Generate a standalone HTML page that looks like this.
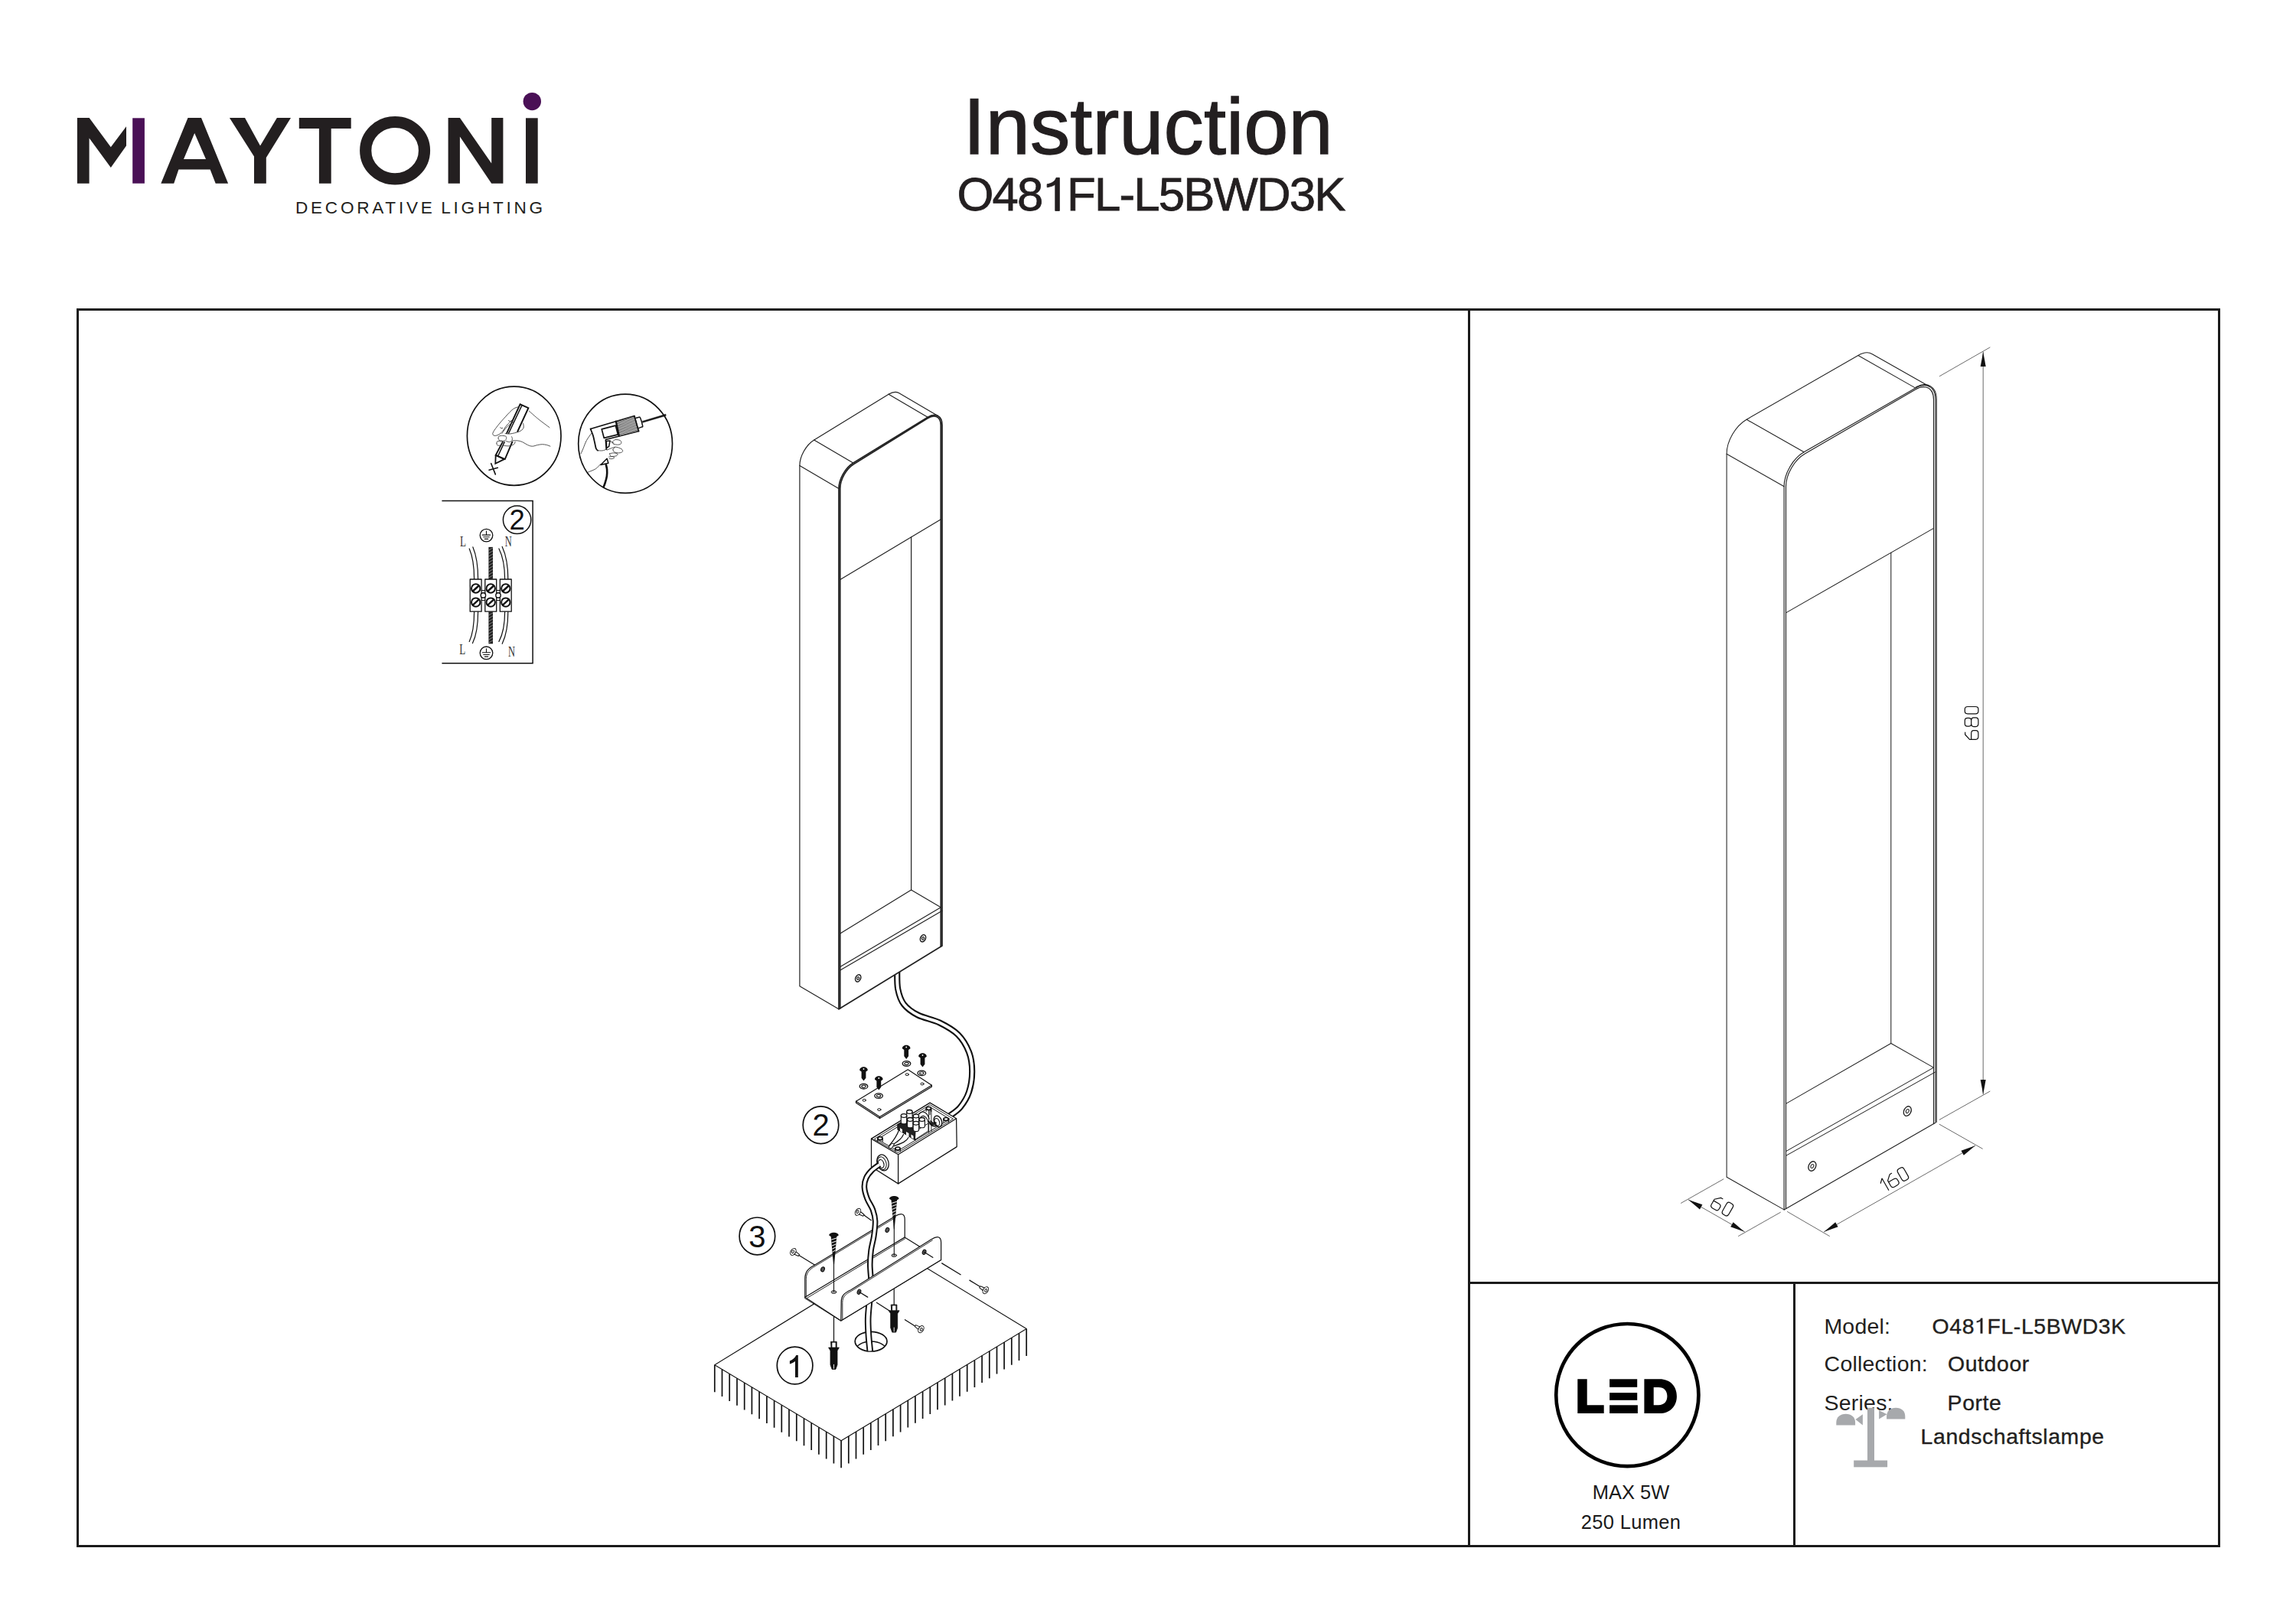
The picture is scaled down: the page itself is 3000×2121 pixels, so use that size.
<!DOCTYPE html>
<html><head><meta charset="utf-8"><title>Instruction O481FL-L5BWD3K</title>
<style>
html,body{margin:0;padding:0;background:#fff;}
body{width:3000px;height:2121px;position:relative;overflow:hidden;font-family:"Liberation Sans",sans-serif;color:#1a1a1a;}
.abs{position:absolute;white-space:nowrap;}
.frame{position:absolute;left:99.5px;top:402.5px;width:2795px;height:1613px;border:3px solid #1a1a1a;}
.vl{position:absolute;background:#1a1a1a;width:3px;}
.hl{position:absolute;background:#1a1a1a;height:3px;}
#title{left:1000.2px;width:1000px;text-align:center;top:104.6px;font-size:104.5px;line-height:120px;-webkit-text-stroke:1.3px #231f20;letter-spacing:0.1px;color:#231f20}
#model{left:1003.5px;width:1000px;text-align:center;top:219.3px;font-size:61.7px;line-height:70px;letter-spacing:-1.8px;color:#231f20;-webkit-text-stroke:0.8px #231f20;}
.info{font-size:28.5px;line-height:32px;letter-spacing:0.55px;color:#231f20;-webkit-text-stroke:0.35px #231f20}
.lab{letter-spacing:0.2px;-webkit-text-stroke:0;}
svg{position:absolute;left:0;top:0;}
.one{display:inline-block;width:0.556em;height:0.72em;position:relative;}
.one svg{position:absolute;left:0;top:0;width:100%;height:100%;overflow:visible}
#model .one{margin-right:-1.8px}
.info .one{margin-right:0.55px}
</style></head><body>
<div class="frame"></div>
<div class="vl" style="left:1918px;top:404px;height:1616px"></div>
<div class="hl" style="left:1919px;top:1675px;width:980px"></div>
<div class="vl" style="left:2342.5px;top:1676px;height:344px"></div>
<div class="abs" id="title">Instruction</div>
<div class="abs" id="model">O48<span class="one"><svg viewBox="0 0 556 720" preserveAspectRatio="none"><path d="M362 720 V22 H292 C272 92 202 142 100 158 V222 C172 212 232 192 272 162 V720 Z" fill="#231f20" stroke="#231f20" stroke-width="14"/></svg></span>FL-L5BWD3K</div>
<div class="abs" style="left:2031px;width:200px;text-align:center;top:1930px;font-size:25.5px;line-height:40px">MAX 5W</div>
<div class="abs" style="left:2031px;width:200px;text-align:center;top:1969.3px;font-size:25.5px;line-height:40px;letter-spacing:0.3px">250 Lumen</div>
<div class="abs info lab" style="left:2383.4px;top:1716.7px">Model:</div>
<div class="abs info" style="left:2524.6px;top:1716.7px">O48<span class="one"><svg viewBox="0 0 556 720" preserveAspectRatio="none"><path d="M362 720 V22 H292 C272 92 202 142 100 158 V222 C172 212 232 192 272 162 V720 Z" fill="#231f20" stroke="#231f20" stroke-width="12"/></svg></span>FL-L5BWD3K</div>
<div class="abs info lab" style="left:2383.6px;top:1766.4px">Collection:</div>
<div class="abs info" style="left:2545px;top:1766.4px">Outdoor</div>
<div class="abs info lab" style="left:2383.6px;top:1817.3px">Series:</div>
<div class="abs info" style="left:2544.6px;top:1817.3px">Porte</div>
<div class="abs info" style="left:2509.6px;top:1860.9px">Landschaftslampe</div>
<div class="abs" id="deco" style="left:386px;top:259px;font-size:22.6px;line-height:26px;letter-spacing:3.73px;word-spacing:-2.2px;color:#231f20;">DECORATIVE LIGHTING</div>
<svg width="3000" height="2121" viewBox="0 0 3000 2121" fill="none" stroke-linecap="round" stroke-linejoin="round">
<defs>
<g id="scr"><path d="M-5.3 4.6 C-5.3 -1.6 5.3 -1.6 5.3 4.6 L2.9 6.2 V14.5 L0 18.3 L-2.9 14.5 V6.2 Z" fill="#111" stroke="none"/><circle cx="0" cy="2.8" r="0.9" fill="#fff" stroke="none"/></g>
<g id="wsh" stroke="#111" fill="#fff"><ellipse cx="0" cy="0" rx="5.3" ry="3.3" stroke-width="1.3"/><ellipse cx="0" cy="0" rx="2.7" ry="1.6" stroke-width="1.1"/></g>
<g id="anchor"><path d="M-3.7 0 H3.7 V7.8 H6.9 L4.5 11.7 V30.2 L2.4 36.1 H-2.4 L-4.5 30.2 V11.7 L-6.9 7.8 H-3.7 Z" fill="#111" stroke="#111" stroke-width="0.8"/><rect x="-2.2" y="1.3" width="4.4" height="6" fill="#fff" stroke="none"/><path d="M0 30 V35" stroke="#fff" stroke-width="0.9"/></g>
<g id="wscrew"><path d="M-6.2 3.4 C-6.2 -1.4 6.2 -1.4 6.2 3.4 L3.8 5 L0.4 43 H-0.4 L-3.8 5 Z" fill="#111" stroke="none"/><path d="M-3 9 L3.4 7 M-2.7 13 L3 11 M-2.3 17 L2.6 15 M-1.9 21 L2.2 19 M-1.5 25 L1.8 23" stroke="#fff" stroke-width="1"/></g>
<g id="bolt" stroke="#111" stroke-width="1" fill="#fff"><path d="M0 -2.2 L-7.5 -1.2 V1.2 L0 2.2Z"/><ellipse cx="1.2" cy="0" rx="3.2" ry="4.9"/><ellipse cx="1.6" cy="0" rx="1.3" ry="2" stroke-width="0.9"/></g>
</defs>
<g id="logo" stroke="none" fill="#231f20">
<!-- M -->
<path d="M100.9 154 H116.6 L144.8 192.3 L165 165.3 V190.6 L144.8 219 L116.6 180.5 V239.7 H100.9 Z"/>
<rect x="173.2" y="154.3" width="15.7" height="85.4" fill="#4a1056"/>
<!-- A -->
<path fill-rule="evenodd" d="M245.5 154 H263 L298.1 239.7 H281.7 L274.6 221.4 H233.4 L227.2 239.7 H210.3 Z M254.2 174 L240 208 H269 Z"/>
<!-- Y -->
<path d="M299.9 154 H320 L340 190.6 L361.9 154 H380 L347.8 206 V239.7 H332 V204.5 Z"/>
<!-- T -->
<path d="M390.8 154 H458.7 V168 H432.7 V239.7 H416.9 V168 H390.8 Z"/>
<!-- O -->
<ellipse cx="516.1" cy="196.7" rx="38.4" ry="37.2" fill="none" stroke="#231f20" stroke-width="15.2"/>
<!-- N -->
<path d="M585.6 154 H600.9 L642.2 213.5 V154 H657.4 V239.7 H642.2 L600.9 178.5 V239.7 H585.6 Z"/>
<!-- I -->
<rect x="687" y="154.3" width="15.7" height="85.4"/>
<circle cx="695.3" cy="132.6" r="11.7" fill="#4a1056"/>
</g>
<!-- right lamp -->
<g stroke="#222" stroke-width="1.05" fill="none">
<path d="M2331.1 1580.9 L2331.1 635.8 C2331.1 619.2 2342.7 599.1 2357.1 590.8 L2502.9 507.1 C2517.3 498.8 2528.9 505.5 2528.9 522.1 L2528.9 1467.2 L2331.1 1580.9" stroke-width="1.15"/>
<path d="M2333.5 1579.5 L2333.5 635.8 C2333.5 620.0 2344.6 600.9 2358.3 593.0 L2502.4 509.2 C2515.7 501.4 2526.5 507.1 2526.5 522.1 L2526.5 1468.6" stroke-width="1.15"/>
<path d="M2503.6 505.8 C2518.3 497.8 2530.3 505.1 2530.3 522.1 L2530.3 1466.4"/>
<path d="M2331.1 1580.9 L2256.1 1538.3 L2256.1 593.2 C2256.1 576.6 2267.7 556.5 2282.1 548.2 L2427.9 464.5"/>
<path d="M2256.1 593.2 L2331.1 635.8 M2282.1 548.2 L2357.1 590.8 M2427.9 464.5 L2502.9 507.1"/>
<path d="M2427.9 464.5 C2435.1 460.3 2441.6 459.9 2446.3 462.7 L2521.3 505.3"/>
<path d="M2333.5 800.9 L2526.5 690.4"/>
<path d="M2470.8 722.3 V1363.5"/>
<path d="M2333.5 1442.4 L2470.8 1363.5 L2526.5 1395.1"/>
<path d="M2333.5 1504.6 L2526.5 1395.1"/>
<path d="M2333.5 1510.4 L2528.9 1400.9"/>
<ellipse cx="2367.9" cy="1524" rx="4.6" ry="6.6" transform="rotate(25 2367.9 1524)" stroke-width="1.37"/>
<ellipse cx="2367.9" cy="1524" rx="1.8" ry="2.6" transform="rotate(25 2367.9 1524)"/>
<ellipse cx="2492.3" cy="1452.1" rx="4.6" ry="6.6" transform="rotate(25 2492.3 1452.1)" stroke-width="1.37"/>
<ellipse cx="2492.3" cy="1452.1" rx="1.8" ry="2.6" transform="rotate(25 2492.3 1452.1)"/>
</g>
<!-- dims -->
<g stroke="#444" stroke-width="0.8" fill="none">
<path d="M2591.2 459.9 L2591.2 1429.9"/>
<path d="M2534.4 491.6 L2600 454"/>
<path d="M2534.1 1463.3 L2600 1426.2"/>
<path d="M2383.4 1609.7 L2580.7 1497.3"/>
<path d="M2534.1 1469.3 L2590.3 1501.2"/>
<path d="M2335.5 1583.5 L2390.4 1615.4"/>
<path d="M2206.2 1567.9 L2279.4 1609.7"/>
<path d="M2251.9 1540.9 L2196.5 1572.3"/>
<path d="M2326.4 1584.3 L2271.5 1615.4"/>
</g>
<path d="M2591.2 459.9 L2594.7 478.9 L2587.7 478.9Z" fill="#111" stroke="none"/>
<path d="M2591.2 1429.9 L2587.7 1410.9 L2594.7 1410.9Z" fill="#111" stroke="none"/>
<path d="M2383.4 1609.7 L2398.2 1597.3 L2401.6 1603.3Z" fill="#111" stroke="none"/>
<path d="M2580.7 1497.3 L2565.9 1509.7 L2562.5 1503.7Z" fill="#111" stroke="none"/>
<path d="M2206.2 1567.9 L2224.4 1574.3 L2221.0 1580.4Z" fill="#111" stroke="none"/>
<path d="M2279.4 1609.7 L2261.2 1603.3 L2264.6 1597.2Z" fill="#111" stroke="none"/>
<g transform="translate(2591.2 944.9) rotate(-90) translate(0 -6.3) scale(0.93 -0.93)" stroke="#111" stroke-width="1.3" fill="none" stroke-linejoin="round"><path transform="translate(-23.00 0)" d="M9.8,18.5 H6.8 L0,12.2 V3.5 Q0,0 4,0 H8.5 Q12.5,0 12.5,3.5 V6.5 Q12.5,9.9 8.5,9.9 H0"/><path transform="translate(-5.00 0)" d="M8.5,9.9 H4 Q0,9.9 0,6.5 V3.5 Q0,0 4,0 H8.5 Q12.5,0 12.5,3.5 V6.5 Q12.5,9.9 8.5,9.9 Q12,9.9 12,13 V15.5 Q12,18.9 8.5,18.9 H4 Q0.5,18.9 0.5,15.5 V13 Q0.5,9.9 4,9.9"/><path transform="translate(13.00 0)" d="M0,4 V15 Q0,18.9 3.5,18.9 H6.5 Q10,18.9 10,15 V4 Q10,0 6.5,0 H3.5 Q0,0 0,4Z"/></g>
<g transform="translate(2482.0 1553.5) rotate(-29.7) translate(0 -5.5) scale(0.93 -0.93)" stroke="#111" stroke-width="1.3" fill="none" stroke-linejoin="round"><path transform="translate(-19.25 0)" d="M0,14 L5,18.9 V0"/><path transform="translate(-8.75 0)" d="M9.8,18.5 H6.8 L0,12.2 V3.5 Q0,0 4,0 H8.5 Q12.5,0 12.5,3.5 V6.5 Q12.5,9.9 8.5,9.9 H0"/><path transform="translate(9.25 0)" d="M0,4 V15 Q0,18.9 3.5,18.9 H6.5 Q10,18.9 10,15 V4 Q10,0 6.5,0 H3.5 Q0,0 0,4Z"/></g>
<g transform="translate(2242.8 1588.8) rotate(29.7) translate(0 -6) scale(0.93 -0.93)" stroke="#111" stroke-width="1.3" fill="none" stroke-linejoin="round"><path transform="translate(-14.00 0)" d="M9.8,18.5 H6.8 L0,12.2 V3.5 Q0,0 4,0 H8.5 Q12.5,0 12.5,3.5 V6.5 Q12.5,9.9 8.5,9.9 H0"/><path transform="translate(4.00 0)" d="M0,4 V15 Q0,18.9 3.5,18.9 H6.5 Q10,18.9 10,15 V4 Q10,0 6.5,0 H3.5 Q0,0 0,4Z"/></g>
<!-- cable1 -->
<clipPath id="c1clip"><path d="M1096 1318.8 L1231 1236 H1400 V1500 H1096Z"/></clipPath>
<g clip-path="url(#c1clip)"><path d="M1172.2 1266.0 C1172.4 1270.4 1171.7 1284.8 1173.2 1292.5 C1174.7 1300.2 1176.6 1306.7 1181.0 1312.4 C1185.4 1318.1 1191.6 1322.5 1199.4 1326.5 C1207.2 1330.5 1219.0 1332.2 1227.7 1336.5 C1236.4 1340.8 1245.4 1345.7 1251.8 1352.1 C1258.2 1358.5 1262.9 1366.7 1266.0 1374.7 C1269.1 1382.7 1270.2 1391.5 1270.2 1400.2 C1270.2 1409.0 1268.6 1419.4 1266.0 1427.2 C1263.4 1435.0 1258.9 1441.8 1254.7 1447.0 C1250.5 1452.2 1242.9 1456.6 1240.6 1458.5" stroke="#111" stroke-width="8.2" stroke-linecap="butt" fill="none"/>
<path d="M1172.2 1266.0 C1172.4 1270.4 1171.7 1284.8 1173.2 1292.5 C1174.7 1300.2 1176.6 1306.7 1181.0 1312.4 C1185.4 1318.1 1191.6 1322.5 1199.4 1326.5 C1207.2 1330.5 1219.0 1332.2 1227.7 1336.5 C1236.4 1340.8 1245.4 1345.7 1251.8 1352.1 C1258.2 1358.5 1262.9 1366.7 1266.0 1374.7 C1269.1 1382.7 1270.2 1391.5 1270.2 1400.2 C1270.2 1409.0 1268.6 1419.4 1266.0 1427.2 C1263.4 1435.0 1258.9 1441.8 1254.7 1447.0 C1250.5 1452.2 1242.9 1456.6 1240.6 1458.5" stroke="#fff" stroke-width="4.0" stroke-linecap="butt" fill="none"/>
</g>
<!-- left lamp -->
<g stroke="#222" stroke-width="1.2" fill="none">
<path d="M1096.0 1318.8 L1096.0 638.5 C1096.0 626.3 1104.4 611.4 1114.8 605.0 L1212.2 545.2 C1222.6 538.8 1231.0 543.5 1231.0 555.7 L1231.0 1236.0 L1096.0 1318.8" stroke-width="1.75"/>
<path d="M1097.7 1317.8 L1097.7 638.5 C1097.7 626.9 1105.7 612.6 1115.6 606.5 L1211.9 546.7 C1221.5 540.7 1229.3 544.7 1229.3 555.7 L1229.3 1237.0" stroke-width="1.75"/>
<path d="M1096.0 1318.8 L1044.9 1288.8 L1044.9 608.5 C1044.9 596.3 1053.3 581.4 1063.7 575.0 L1161.1 515.2"/>
<path d="M1044.9 608.5 L1096.0 638.5 M1063.7 575.0 L1114.8 605.0 M1161.1 515.2 L1212.2 545.2"/>
<path d="M1161.1 515.2 C1166.3 512.0 1171.0 511.6 1174.4 513.5 L1225.5 543.5"/>
<path d="M1097.7 757.5 L1229.3 678.7"/>
<path d="M1190.6 701.9 V1163.1"/>
<path d="M1097.7 1220.1 L1190.6 1163.1 L1229.3 1185.8"/>
<path d="M1097.7 1263.6 L1229.3 1185.8"/>
<path d="M1097.7 1268.0 L1231.0 1190.2"/>
<ellipse cx="1121.2" cy="1278.4" rx="3.3" ry="4.8" transform="rotate(25 1121.2 1278.4)" stroke-width="1.56"/>
<ellipse cx="1121.2" cy="1278.4" rx="1.3" ry="1.9" transform="rotate(25 1121.2 1278.4)"/>
<ellipse cx="1206" cy="1226.2" rx="3.3" ry="4.8" transform="rotate(25 1206 1226.2)" stroke-width="1.56"/>
<ellipse cx="1206" cy="1226.2" rx="1.3" ry="1.9" transform="rotate(25 1206 1226.2)"/>
</g>
<!-- plate and screws -->
<g stroke="#111" stroke-width="1.2" fill="#fff">
<path d="M1118.5 1439.2 L1186.3 1397.8 L1217.4 1418.2 L1217.4 1420.2 L1149.5 1461.6 L1118.5 1441.2Z"/>
<path d="M1118.5 1439.2 L1149.5 1459.6 L1217.4 1418.2" fill="none"/>
<path d="M1149.5 1459.6 v2" fill="none"/>
<ellipse cx="1129.2" cy="1437.8" rx="2.2" ry="1.4" stroke-width="1"/>
<ellipse cx="1185.2" cy="1404.2" rx="2.2" ry="1.4" stroke-width="1"/>
<ellipse cx="1205" cy="1416.5" rx="2.2" ry="1.4" stroke-width="1"/>
<ellipse cx="1148.8" cy="1450.1" rx="2.2" ry="1.4" stroke-width="1"/>
</g>
<use href="#wsh" x="1184.5" y="1390"/>
<use href="#wsh" x="1204.3" y="1402.4"/>
<use href="#wsh" x="1128.5" y="1419.7"/>
<use href="#wsh" x="1148.1" y="1432.1"/>
<use href="#scr" x="1184.2" y="1365.7"/>
<use href="#scr" x="1205.5" y="1376.2"/>
<use href="#scr" x="1128.5" y="1394.2"/>
<use href="#scr" x="1148.3" y="1406.2"/>
<!-- junction box -->
<g stroke="#111" stroke-width="1.25" fill="#fff">
<path d="M1138.5 1488.1 L1215.1 1441.1 L1249.6 1461.8 L1250.2 1498.6 L1173.6 1546.9 L1138.5 1524.7Z"/>
<path d="M1138.5 1488.1 L1173.6 1508.8 L1249.6 1461.8 M1173.6 1508.8 L1173.6 1546.9" fill="none"/>
<path d="M1142.6 1488.4 L1215.1 1443.7 L1245.4 1462.2 L1173.6 1506.2Z" stroke-width="0.9" fill="none"/>
<path d="M1146.6 1488.8 L1215.1 1446.6 L1241.0 1462.5 L1173.6 1503.8Z" stroke-width="1" fill="none"/>
<path d="M1215.1 1446.6 v10 M1213.6 1451.4 V1480.3 M1216.9 1449.5 V1478.4" stroke-width="0.9" fill="none"/>
<path d="M1146.7 1487.7 v4 M1153.3 1487.7 v4" stroke-width="1" fill="none"/><ellipse cx="1150" cy="1487.7" rx="3.1" ry="2" stroke-width="1.7"/>
<path d="M1169.7 1501 v4 M1176.3 1501 v4" stroke-width="1" fill="none"/><ellipse cx="1173" cy="1501" rx="3.1" ry="2" stroke-width="1.7"/>
<path d="M1232.8 1462.5 v4 M1239.3999999999999 1462.5 v4" stroke-width="1" fill="none"/><ellipse cx="1236.1" cy="1462.5" rx="3.1" ry="2" stroke-width="1.7"/>
<path d="M1210.1000000000001 1448.5 v4 M1216.7 1448.5 v4" stroke-width="1" fill="none"/><ellipse cx="1213.4" cy="1448.5" rx="3.1" ry="2" stroke-width="1.7"/>
<path d="M1172.9 1469.5 L1181.5 1464.5 L1196.5 1478 L1196 1490 L1187 1484.5 L1173 1476 Z" fill="#222" stroke="#111"/>
<path d="M1176 1474 l3 2 v4 l-3 -2z M1184 1479 l3.5 2 v4.5 l-3.5 -2z M1190.5 1482.5 l3 2 v4 l-3 -2z" fill="#fff" stroke="none"/>
<path d="M1196.5 1478 L1213 1468 V1478 L1196 1489" fill="#fff" stroke-width="1"/>
<path d="M1162 1497 C1168 1490 1172 1484 1174.5 1477 M1164 1497.5 C1172 1492 1178 1489 1180.5 1482.5 M1166 1498.5 C1175 1495 1184 1493 1187 1486.5" fill="none" stroke-width="1.2"/>
<path d="M1161 1499 l4.5 -5 l3 1.5 l-4 5.5z" fill="#fff" stroke-width="1"/>
<path d="M1184.7 1452.9 V1461.4 A3.7 2.4 0 0 0 1192.1000000000001 1461.4 V1452.9 Z" stroke-width="1.1"/><ellipse cx="1188.4" cy="1452.9" rx="3.7" ry="2.4" stroke-width="1.3"/>
<path d="M1177.3 1458 V1466.5 A3.7 2.4 0 0 0 1184.7 1466.5 V1458 Z" stroke-width="1.1"/><ellipse cx="1181" cy="1458" rx="3.7" ry="2.4" stroke-width="1.3"/>
<path d="M1193.2 1458.5 V1467.0 A3.7 2.4 0 0 0 1200.6000000000001 1467.0 V1458.5 Z" stroke-width="1.1"/><ellipse cx="1196.9" cy="1458.5" rx="3.7" ry="2.4" stroke-width="1.3"/>
<path d="M1201.0 1462.9 V1471.4 A3.7 2.4 0 0 0 1208.4 1471.4 V1462.9 Z" stroke-width="1.1"/><ellipse cx="1204.7" cy="1462.9" rx="3.7" ry="2.4" stroke-width="1.3"/>
<path d="M1185.5 1462.9 V1471.4 A3.7 2.4 0 0 0 1192.9 1471.4 V1462.9 Z" stroke-width="1.1"/><ellipse cx="1189.2" cy="1462.9" rx="3.7" ry="2.4" stroke-width="1.3"/>
<path d="M1193.2 1467.7 V1476.2 A3.7 2.4 0 0 0 1200.6000000000001 1476.2 V1467.7 Z" stroke-width="1.1"/><ellipse cx="1196.9" cy="1467.7" rx="3.7" ry="2.4" stroke-width="1.3"/>
<path d="M1201 1456 C1204 1451 1211 1452 1214 1462 M1203 1460 C1207 1456 1211 1460 1213 1467" fill="none" stroke-width="1.1"/>
<ellipse cx="1225.4" cy="1465.5" rx="5" ry="7.5" transform="rotate(-20 1225.4 1465.5)" stroke-width="1.4"/>
<ellipse cx="1224.4" cy="1466.3" rx="3" ry="5" transform="rotate(-20 1224.4 1466.3)" stroke-width="1.1"/>
<path d="M1214 1466 C1217 1470 1220 1470 1223 1469 M1215 1468.5 C1218 1472 1221 1472.5 1224 1471 M1216 1465 C1218 1468 1221 1468 1223 1467" stroke-width="1.6" fill="none"/>
<ellipse cx="1153.5" cy="1519.4" rx="7.4" ry="10.7" transform="rotate(-16 1153.5 1519.4)" stroke-width="1.3"/>
<ellipse cx="1152.3" cy="1520.2" rx="5.6" ry="8.6" transform="rotate(-16 1152.3 1520.2)" stroke-width="1"/>
<ellipse cx="1151.2" cy="1521" rx="3.6" ry="5.6" transform="rotate(-16 1151.2 1521)" stroke-width="1.2"/>
</g>
<!-- ground -->
<g stroke="#111" fill="none">
<path d="M933.8 1783.7 L1099.1 1882.8 L1341.2 1736.5 L1175.2 1635.5 Z" stroke-width="1.1" fill="#fff"/>
<path d="M933.8 1783.7 v35.5 M943.5 1789.5 v35.5 M953.2 1795.4 v35.5 M963.0 1801.2 v35.5 M972.7 1807.0 v35.5 M982.4 1812.8 v35.5 M992.1 1818.7 v35.5 M1001.9 1824.5 v35.5 M1011.6 1830.3 v35.5 M1021.3 1836.2 v35.5 M1031.0 1842.0 v35.5 M1040.8 1847.8 v35.5 M1050.5 1853.7 v35.5 M1060.2 1859.5 v35.5 M1069.9 1865.3 v35.5 M1079.7 1871.1 v35.5 M1089.4 1877.0 v35.5 M1099.1 1882.8 v35.5 M1108.8 1876.9 v35.5 M1118.5 1871.1 v35.5 M1128.2 1865.2 v35.5 M1137.8 1859.4 v35.5 M1147.5 1853.5 v35.5 M1157.2 1847.7 v35.5 M1166.9 1841.8 v35.5 M1176.6 1836.0 v35.5 M1186.3 1830.1 v35.5 M1195.9 1824.3 v35.5 M1205.6 1818.4 v35.5 M1215.3 1812.6 v35.5 M1225.0 1806.7 v35.5 M1234.7 1800.9 v35.5 M1244.4 1795.0 v35.5 M1254.0 1789.2 v35.5 M1263.7 1783.3 v35.5 M1273.4 1777.5 v35.5 M1283.1 1771.6 v35.5 M1292.8 1765.8 v35.5 M1302.5 1759.9 v35.5 M1312.1 1754.1 v35.5 M1321.8 1748.2 v35.5 M1331.5 1742.4 v35.5 M1341.2 1736.5 v35.5 " stroke-width="1.7" stroke-linecap="butt"/>
<clipPath id="holeclip"><ellipse cx="1138.1" cy="1753.1" rx="20.5" ry="12.4"/></clipPath>
<ellipse cx="1138.1" cy="1753.1" rx="20.9" ry="12.8" stroke-width="1.7" fill="#fff"/>
<ellipse cx="1138.1" cy="1765.9" rx="20.9" ry="12.8" stroke-width="1.5" clip-path="url(#holeclip)"/>
</g>
<!-- bracket back -->
<g stroke="#111" stroke-width="1.2" fill="#fff">
<path d="M1051.8 1695.3 V1670.9 C1051.8 1662 1056 1657.5 1064.4 1653.2 L1169.8 1589.3 C1176.5 1585 1182.2 1585.5 1182.2 1593.5 V1617 L1054.6 1694.6 Z"/>
<path d="M1053.3 1694.5 V1671.5 C1053.3 1663.5 1057.5 1659 1065.2 1654.6 L1170.5 1590.8" fill="none" stroke-width="0.9"/>
<path d="M1051.8 1695.3 L1098.8 1726.1 L1229.6 1646.6 L1182.2 1617 Z"/>
<path d="M1054.6 1696.3 L1182.4 1618.8" fill="none" stroke-width="0.9"/>
<ellipse cx="1075" cy="1658.8" rx="2.3" ry="3.1" transform="rotate(20 1075 1658.8)" fill="#555" stroke-width="1.1"/>
<ellipse cx="1159.4" cy="1607.4" rx="2.3" ry="3.1" transform="rotate(20 1159.4 1607.4)" fill="#555" stroke-width="1.1"/>
<ellipse cx="1089.5" cy="1688.5" rx="3.3" ry="1.8" stroke-width="1" fill="#bbb"/>
<ellipse cx="1168.3" cy="1640.6" rx="3.3" ry="1.8" stroke-width="1" fill="#bbb"/>
</g>
<g stroke="#111" stroke-width="1.2" fill="none">
<path d="M1044 1640.4 L1064.4 1652.9 M1129 1588 L1138.3 1594.7"/>
</g>
<use href="#bolt" transform="translate(1037.4 1636.6) rotate(211)"/>
<use href="#bolt" transform="translate(1122 1584.4) rotate(211)"/>
<g stroke="#111" stroke-width="1.1" fill="none"><path d="M1089.5 1650 V1688 M1168.3 1600 V1640.6"/></g>
<use href="#wscrew" x="1089.5" y="1611"/>
<use href="#wscrew" x="1168.3" y="1563.3"/>
<!-- cable2 -->
<path d="M1149.1 1521.9 C1147.5 1523.1 1142.2 1526.4 1139.3 1529.3 C1136.4 1532.2 1133.6 1535.4 1131.9 1539.1 C1130.2 1542.8 1129.2 1547.0 1129.4 1551.5 C1129.6 1556.0 1131.2 1561.4 1133.1 1566.3 C1134.9 1571.2 1138.8 1576.1 1140.5 1581.0 C1142.2 1585.9 1143.4 1590.0 1143.6 1595.8 C1143.8 1601.6 1142.7 1609.2 1141.8 1615.6 C1140.9 1622.0 1138.9 1627.8 1138.1 1634.0 C1137.3 1640.2 1136.8 1646.2 1136.8 1652.5 C1136.8 1658.8 1137.9 1668.8 1138.1 1672.0" stroke="#111" stroke-width="7.6" stroke-linecap="butt" fill="none"/>
<path d="M1149.1 1521.9 C1147.5 1523.1 1142.2 1526.4 1139.3 1529.3 C1136.4 1532.2 1133.6 1535.4 1131.9 1539.1 C1130.2 1542.8 1129.2 1547.0 1129.4 1551.5 C1129.6 1556.0 1131.2 1561.4 1133.1 1566.3 C1134.9 1571.2 1138.8 1576.1 1140.5 1581.0 C1142.2 1585.9 1143.4 1590.0 1143.6 1595.8 C1143.8 1601.6 1142.7 1609.2 1141.8 1615.6 C1140.9 1622.0 1138.9 1627.8 1138.1 1634.0 C1137.3 1640.2 1136.8 1646.2 1136.8 1652.5 C1136.8 1658.8 1137.9 1668.8 1138.1 1672.0" stroke="#fff" stroke-width="3.6" stroke-linecap="butt" fill="none"/>
<g clip-path="url(#cab3clip)"><path d="M1136.2 1698.0 C1135.9 1702.2 1134.4 1715.3 1134.2 1723.1 C1134.0 1730.9 1134.5 1737.6 1134.9 1744.7 C1135.3 1751.8 1136.5 1762.0 1136.8 1765.5" stroke="#111" stroke-width="8.6" stroke-linecap="butt" fill="none"/>
<path d="M1136.2 1698.0 C1135.9 1702.2 1134.4 1715.3 1134.2 1723.1 C1134.0 1730.9 1134.5 1737.6 1134.9 1744.7 C1135.3 1751.8 1136.5 1762.0 1136.8 1765.5" stroke="#fff" stroke-width="4.8" stroke-linecap="butt" fill="none"/>
</g>
<clipPath id="cab3clip"><path d="M1100 1690 H1180 V1753.1 H1159 A20.9 12.8 0 0 1 1117.2 1753.1 H1100Z"/></clipPath>
<!-- bracket front -->
<g stroke="#111" stroke-width="1.2" fill="#fff">
<path d="M1098.8 1726.1 L1099.2 1701.6 C1099.2 1693 1103.5 1689.5 1111.7 1685.7 L1217.5 1619.3 C1224 1615 1229.6 1615.3 1229.6 1623.5 V1646.6 Z"/>
<path d="M1100.8 1724.5 V1702.3 C1100.8 1694.5 1105 1691 1112.5 1687.2 L1218.3 1620.8" fill="none" stroke-width="0.9"/>
<path d="M1097.2 1725.3 L1051.5 1696.6" fill="none" stroke-width="0.9"/>
<ellipse cx="1122.5" cy="1688.2" rx="2.2" ry="3.2" transform="rotate(20 1122.5 1688.2)" fill="#555" stroke-width="1.1"/>
<path d="M1122.5 1688.2 L1133.7 1695.1" stroke-width="1.3"/>
<ellipse cx="1207.6" cy="1636.3" rx="2.2" ry="3.2" transform="rotate(20 1207.6 1636.3)" fill="#555" stroke-width="1.1"/>
<path d="M1207.6 1636.3 L1218.8 1643.3" stroke-width="1.3"/>
</g>
<g stroke="#111" stroke-width="1.2" fill="none">
<path d="M1089.5 1721 V1754 M1168.2 1684.8 V1706"/>
<path d="M1145.4 1702.3 L1161.8 1712.8 M1182.5 1724.7 L1195.6 1733" stroke-width="1.3"/>
<path d="M1230.7 1650.9 L1255.1 1665.7 M1266.9 1673.1 L1280.2 1681.2" stroke-width="1.3"/>
</g>
<use href="#anchor" x="1089.5" y="1753.3"/>
<use href="#anchor" x="1168.2" y="1705"/>
<use href="#bolt" transform="translate(1202.4 1736.5) rotate(31)"/>
<use href="#bolt" transform="translate(1286.8 1685.6) rotate(31)"/>
<ellipse cx="1038.6" cy="1784.5" rx="23.3" ry="24.4" stroke="#111" stroke-width="1.7" fill="none"/>
<path transform="translate(0.0 0.0)" d="M1042.8 1771 V1800 H1039 V1779 C1036.5 1781 1034 1782 1031.9 1782.4 V1778.4 C1035.5 1777 1038.8 1774.5 1040.3 1771 Z" fill="#111" stroke="none"/>
<ellipse cx="1072.5" cy="1470.2" rx="23.3" ry="24.4" stroke="#111" stroke-width="1.7" fill="none"/>
<text x="1072.5" y="1484.4" style="font-family:'Liberation Sans',sans-serif" font-size="40" text-anchor="middle" fill="#111" stroke="none">2</text>
<ellipse cx="989.4" cy="1615.4" rx="23.3" ry="24.4" stroke="#111" stroke-width="1.7" fill="none"/>
<text x="989.4" y="1629.6000000000001" style="font-family:'Liberation Sans',sans-serif" font-size="40" text-anchor="middle" fill="#111" stroke="none">3</text>
<!-- wiring diagram -->
<g stroke="#111" fill="none">
<path d="M577.4 654.6 H696.1 V866.8 H577.4" stroke-width="1.5" stroke-linejoin="miter" stroke-linecap="butt"/>
<circle cx="675.6" cy="679.3" r="18.2" stroke-width="1.5"/>
<text x="675.6" y="692.3" style="font-family:'Liberation Sans',sans-serif" font-size="36.5" text-anchor="middle" fill="#111" stroke="none">2</text>
<circle cx="635.5" cy="699.6" r="8.3" stroke-width="1.3"/><path d="M635.5 694.1 V699.1 M630.3 699.1 H640.7 M631.7 701.8000000000001 H639.3 M633.3 704.4 H637.7" stroke-width="1.1"/>
<circle cx="635.5" cy="853.3" r="8.3" stroke-width="1.3"/><path d="M635.5 847.8 V852.8 M630.3 852.8 H640.7 M631.7 855.5 H639.3 M633.3 858.0999999999999 H637.7" stroke-width="1.1"/>
<path d="M613.2 717 C618 728 619.6 742 619.6 757 M617.9 714.9 C623 727 624.6 741 624.6 757" stroke-width="1.2"/>
<path d="M651.9 717 C657.5 728 659.6 742 659.6 757 M656.2 714.4 C662 727 663.8 741 663.8 757" stroke-width="1.2"/>
<path d="M619.6 799.2 C619.6 814 618 828 613.2 838.4 M624.6 799.2 C624.6 816 622.5 830 617.5 840.6" stroke-width="1.2"/>
<path d="M659.6 799.2 C659.6 814 657.5 828 651.9 838.4 M663.8 799.2 C663.8 816 661.5 830 656.2 841.3" stroke-width="1.2"/>
<rect x="638.4" y="714.9" width="5.6" height="42.1" fill="#222" stroke="none"/>
<rect x="638.4" y="799.2" width="5.6" height="42.1" fill="#222" stroke="none"/>
<path d="M638.6 719 L643.8 716 M638.6 723 L643.8 720 M638.6 727 L643.8 724 M638.6 731 L643.8 728 M638.6 735 L643.8 732 M638.6 739 L643.8 736 M638.6 743 L643.8 740 M638.6 747 L643.8 744 M638.6 751 L643.8 748 M638.6 755 L643.8 752 M638.6 759 L643.8 756 M638.6 804 L643.8 801 M638.6 808 L643.8 805 M638.6 812 L643.8 809 M638.6 816 L643.8 813 M638.6 820 L643.8 817 M638.6 824 L643.8 821 M638.6 828 L643.8 825 M638.6 832 L643.8 829 M638.6 836 L643.8 833 M638.6 840 L643.8 837 " stroke="#aaa" stroke-width="0.7"/>
<rect x="614.2" y="757" width="14.9" height="42.2" stroke-width="1.3" fill="#fff"/>
<rect x="633.8" y="757" width="14.9" height="42.2" stroke-width="1.3" fill="#fff"/>
<rect x="653.3" y="757" width="14.9" height="42.2" stroke-width="1.3" fill="#fff"/>
<path d="M629.1 771.5 H633.8 M629.1 784.5 H633.8 M648.7 771.5 H653.3 M648.7 784.5 H653.3" stroke-width="1.1"/>
<circle cx="621.7" cy="769" r="5.7" stroke-width="2" fill="#fff"/><path d="M617.9000000000001 772.5 L625.5 765.5" stroke-width="2.4"/>
<circle cx="621.7" cy="787.1" r="5.7" stroke-width="2" fill="#fff"/><path d="M617.9000000000001 790.6 L625.5 783.6" stroke-width="2.4"/>
<circle cx="641.2" cy="769" r="5.7" stroke-width="2" fill="#fff"/><path d="M637.4000000000001 772.5 L645.0 765.5" stroke-width="2.4"/>
<circle cx="641.2" cy="787.1" r="5.7" stroke-width="2" fill="#fff"/><path d="M637.4000000000001 790.6 L645.0 783.6" stroke-width="2.4"/>
<circle cx="660.8" cy="769" r="5.7" stroke-width="2" fill="#fff"/><path d="M657.0 772.5 L664.5999999999999 765.5" stroke-width="2.4"/>
<circle cx="660.8" cy="787.1" r="5.7" stroke-width="2" fill="#fff"/><path d="M657.0 790.6 L664.5999999999999 783.6" stroke-width="2.4"/>
<circle cx="631.4" cy="778" r="3.2" stroke-width="1.4" fill="#fff"/>
<circle cx="651" cy="778" r="3.2" stroke-width="1.4" fill="#fff"/>
</g>
<text x="601" y="713.7" style="font-family:'Liberation Serif',serif" font-size="18" fill="#333" stroke="none" textLength="8" lengthAdjust="spacingAndGlyphs">L</text>
<text x="659.8" y="713.7" style="font-family:'Liberation Serif',serif" font-size="18" fill="#333" stroke="none" textLength="9" lengthAdjust="spacingAndGlyphs">N</text>
<text x="600.3" y="854.7" style="font-family:'Liberation Serif',serif" font-size="18" fill="#333" stroke="none" textLength="8" lengthAdjust="spacingAndGlyphs">L</text>
<text x="664" y="857.5" style="font-family:'Liberation Serif',serif" font-size="18" fill="#333" stroke="none" textLength="9" lengthAdjust="spacingAndGlyphs">N</text>
<!-- icons -->
<g stroke="#111" fill="none">
<ellipse cx="671.7" cy="569.7" rx="61.3" ry="64.6" stroke-width="1.7"/>
<ellipse cx="817.1" cy="579.8" rx="61.4" ry="64.6" stroke-width="1.7"/>
<path d="M662.1 566.2 L679.6 528.3 L690.4 533.2 L676.2 564.0" stroke-width="1.9" stroke-linejoin="miter"/>
<path d="M656.8 577.6 L647.7 594.9 L659.8 600.1 L669.3 577.6" stroke-width="1.9" stroke-linejoin="miter"/>
<path d="M682.0 529.6 L664.5 566.4 M659.2 577.6 L650.7 595.9" stroke-width="1.4"/>
<path d="M647.7 594.9 L647.3 605.7 L658.9 600.1 M647.7 594.9 L658.9 600.1" stroke-width="1.8" stroke-linejoin="miter"/>
<path d="M639.1 614.3 L650.3 611.3 M641.7 605.7 L647.3 619.9" stroke-width="1.6"/>
<path d="M678.3 531.5 C677.0 532.0 673.6 532.3 670.6 534.5 C667.5 536.7 663.7 541.1 660.2 544.9 C656.8 548.6 652.6 553.3 649.9 556.9 C647.1 560.5 644.2 564.3 643.8 566.4 C643.4 568.5 645.4 569.6 647.3 569.4 C649.1 569.3 652.6 567.8 655.0 565.6 C657.5 563.3 659.6 558.8 661.9 556.1 C664.2 553.3 667.7 550.3 668.8 549.2 M655.9 566.4 C656.6 565.4 658.6 562.3 660.2 560.4 C661.8 558.5 663.7 556.6 665.4 555.2 C667.1 553.8 669.7 552.3 670.6 551.8 M660.2 566.6 C661.4 566.6 664.1 567.3 667.1 566.9 C670.1 566.4 675.5 565.2 678.3 564.0 C681.1 562.8 683.0 561.3 683.9 559.5 C684.8 557.8 683.7 554.5 683.7 553.5 M691.3 537.1 C693.4 539.0 699.7 544.7 704.2 548.3 C708.7 551.9 715.7 556.9 718.0 558.7 M651.1 572.9 C651.3 572.4 651.1 570.6 652.0 570.0 C652.9 569.5 655.2 569.4 656.8 569.4 C658.3 569.5 660.3 569.7 661.1 570.3 C661.9 570.9 661.8 572.4 661.5 573.3 C661.2 574.3 660.7 575.4 659.3 575.9 C658.0 576.4 654.7 576.6 653.3 576.1 C651.9 575.6 651.5 573.4 651.1 572.9 M649.0 579.4 C649.1 578.9 648.7 577.3 649.9 576.8 C651.0 576.3 654.7 576.1 655.9 576.3 C657.0 576.6 656.6 577.8 656.8 578.1 M649.0 579.4 C649.1 579.8 649.1 581.5 649.9 581.9 C650.6 582.4 652.7 582.1 653.3 582.1 M661.1 576.3 C661.8 576.6 664.1 577.7 665.4 577.6 C666.7 577.6 668.2 576.8 668.8 575.9 C669.5 575.0 669.3 573.3 669.3 572.5 C669.2 571.6 668.5 571.0 668.4 570.7 M658.5 582.4 C659.6 582.4 663.2 583.1 665.4 582.8 C667.5 582.5 670.1 581.5 671.4 580.7 C672.7 579.8 672.9 578.1 673.1 577.6 M669.7 575.9 C670.8 575.9 674.4 575.6 676.6 575.9 C678.8 576.2 680.5 576.7 682.6 577.6 C684.8 578.6 687.4 580.6 689.5 581.5 C691.7 582.4 693.4 583.2 695.6 583.2 C697.7 583.2 700.3 581.9 702.5 581.5 C704.6 581.1 706.5 580.7 708.5 580.7 C710.5 580.7 712.8 581.1 714.5 581.5 C716.3 581.9 718.1 583.0 718.9 583.2 M664.5 549.6 L666.7 550.9 L668.1 550.0 M653.7 558.5 L655.0 559.9 L656.8 559.3" stroke-width="0.85" stroke="#333"/>
<path d="M834.5 563.5 L828.9 543.5 L771.6 560.5 " stroke-width="1.8"/>
<path d="M771.6 560.5 C772.1 562.0 774.1 566.4 775.0 569.5 C775.9 572.6 776.5 576.2 777.2 579.0 C777.8 581.8 778.2 584.7 778.9 586.3 C779.5 587.9 780.7 588.3 781.1 588.7" stroke-width="1.8"/>
<path d="M834.5 563.5 L791.4 574.5 L792.3 587.2" stroke-width="1.8"/>
<path d="M804.8 550.5 L808.8 569.7" stroke-width="2.2"/>
<path d="M786.2 560.9 L804.3 556.1 L807.4 567.8 L789.2 572.3Z" stroke-width="1.7"/>
<path d="M805.1 552.3 L829.4 545.3 M805.5 554.0 L829.9 547.1 M805.9 555.8 L830.5 548.9 M806.2 557.5 L831.0 550.7 M806.6 559.2 L831.5 552.6 M807.0 561.0 L832.0 554.4 M807.4 562.7 L832.5 556.2 M807.7 564.5 L833.0 558.0 M808.1 566.2 L833.5 559.8 M808.5 568.0 L834.0 561.7 " stroke-width="0.85"/>
<path d="M831.1 546.2 L835.0 545.2 M835.0 545.2 C835.3 545.4 835.9 544.3 836.7 546.2 C837.5 548.1 839.3 554.6 839.7 556.6 C840.1 558.5 839.0 557.7 838.8 557.9 M838.8 557.9 L834.1 559.6" stroke-width="1.5"/>
<path d="M839.3 550.4 L869.9 541.2 L870.2 543.3 L839.7 552.3Z" fill="#111" stroke-width="0.5"/>
<path d="M792.3 576.4 L797.0 576.0 L795.7 583.3 L792.7 585.5Z" stroke-width="1.5"/>
<path d="M784.9 607.5 L793.1 599.3 L794.9 605.3Z" stroke-width="1.5"/>
<path d="M791.6 606.4 C791.8 607.6 792.9 610.9 793.1 613.5 C793.3 616.1 793.3 619.3 792.9 622.1 C792.5 625.0 791.5 628.3 790.7 630.8 C790.0 633.2 788.8 635.9 788.4 637.0" stroke-width="2.6" stroke-linecap="butt"/>
<path d="M772.9 566.1 C771.8 567.6 768.2 572.3 766.4 575.6 C764.6 578.9 763.3 583.0 762.1 585.9 C760.9 588.8 759.6 591.7 759.1 592.8 M768.5 617.0 C770.2 616.2 775.8 614.4 778.5 612.6 C781.1 610.9 783.5 607.6 784.5 606.6 M781.1 588.7 C782.1 588.7 785.2 589.2 787.1 588.9 C789.0 588.7 791.4 587.5 792.3 587.2 M800.0 578.1 C800.6 577.6 801.8 575.1 803.5 574.7 C805.2 574.3 809.0 574.8 810.4 575.6 C811.7 576.3 812.1 578.5 811.7 579.4 C811.2 580.4 809.4 581.0 807.8 581.2 C806.1 581.3 803.0 580.8 801.8 580.3 C800.5 579.8 800.3 578.5 800.0 578.1 M800.9 587.6 C801.5 587.1 802.5 584.3 804.3 584.2 C806.2 584.0 810.6 585.8 812.1 586.8 C813.6 587.8 814.0 589.4 813.4 590.2 C812.8 591.1 810.5 591.9 808.7 591.9 C806.9 592.0 803.9 591.4 802.6 590.7 C801.3 589.9 801.2 588.1 800.9 587.6 M796.6 592.8 C797.4 592.7 800.0 591.9 801.8 591.9 C803.5 592.0 806.4 592.6 806.9 593.2 C807.5 593.9 806.6 595.3 805.2 595.8 C803.8 596.3 799.7 596.8 798.3 596.3 C796.9 595.8 796.9 593.4 796.6 592.8 M795.7 597.1 C796.6 597.0 799.7 596.5 800.9 596.7 C802.0 596.9 802.9 597.9 802.6 598.4 C802.3 598.9 800.2 599.6 799.2 599.7 C798.1 599.9 796.7 599.3 796.1 599.3 M797.0 576.0 C797.8 576.5 801.0 578.5 801.8 579.0 M793.1 588.1 C794.0 587.7 796.6 586.6 798.3 585.9 C800.0 585.3 802.6 584.5 803.5 584.2" stroke-width="0.85" stroke="#333"/>
</g>
<!-- LED icon -->
<g fill="#000" stroke="none">
<circle cx="2126.3" cy="1823.1" r="93.1" fill="none" stroke="#000" stroke-width="4.7"/>
<path d="M2061.3 1802.3 H2073.7 V1836.3 H2095.7 V1847 H2061.3 Z"/>
<rect x="2103.1" y="1802.3" width="36.1" height="10.5"/>
<rect x="2103.1" y="1820.1" width="36.1" height="9.7"/>
<rect x="2103.1" y="1836.3" width="36.8" height="10.7"/>
<path fill-rule="evenodd" d="M2148.4 1802.3 H2168.6 C2182 1802.3 2190.9 1811.5 2190.9 1824.65 C2190.9 1837.8 2182 1847 2168.6 1847 H2148.4 Z M2160.7 1812.9 H2167 C2174.5 1812.9 2178.4 1817.5 2178.4 1824.6 C2178.4 1831.7 2174.5 1836.3 2167 1836.3 H2160.7Z"/>
</g>
<!-- lamp icon -->
<g fill="#a7a9ac" stroke="none">
<rect x="2440" y="1839.8" width="9" height="70"/>
<rect x="2422.2" y="1908.5" width="43.9" height="8.8"/>
<path d="M2399.3 1862.4 V1859 C2399.3 1852 2404.5 1847.8 2411.7 1847.8 C2418.9 1847.8 2424.1 1852 2424.1 1859 V1862.4 Z"/>
<path d="M2424.5 1855.1 L2433.9 1848.3 V1862.4 Z"/>
<path d="M2465.1 1854.6 V1851 C2465.1 1844 2470 1839.8 2477.2 1839.8 C2484.4 1839.8 2489.3 1844 2489.3 1851 V1854.6 Z"/>
<path d="M2465.5 1848.3 L2455.1 1842.9 V1854.6 Z"/>
</g>
</svg>
</body></html>
